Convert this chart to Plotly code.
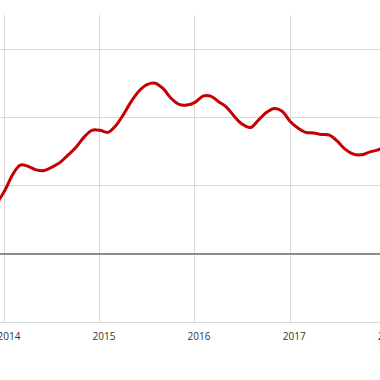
import plotly.graph_objects as go

months = [
    "2013-11-01", "2013-12-01",
    "2014-01-01", "2014-02-01", "2014-03-01", "2014-04-01", "2014-05-01", "2014-06-01",
    "2014-07-01", "2014-08-01", "2014-09-01", "2014-10-01", "2014-11-01", "2014-12-01",
    "2015-01-01", "2015-02-01", "2015-03-01", "2015-04-01", "2015-05-01", "2015-06-01",
    "2015-07-01", "2015-08-01", "2015-09-01", "2015-10-01", "2015-11-01", "2015-12-01",
    "2016-01-01", "2016-02-01", "2016-03-01", "2016-04-01", "2016-05-01", "2016-06-01",
    "2016-07-01", "2016-08-01", "2016-09-01", "2016-10-01", "2016-11-01", "2016-12-01",
    "2017-01-01", "2017-02-01", "2017-03-01", "2017-04-01", "2017-05-01", "2017-06-01",
    "2017-07-01", "2017-08-01", "2017-09-01", "2017-10-01", "2017-11-01", "2017-12-01",
    "2018-01-01",
]
values = [
    0.57, 0.74,
    0.93, 1.17, 1.30, 1.28, 1.23, 1.22,
    1.27, 1.34, 1.45, 1.56, 1.71, 1.81,
    1.81, 1.78, 1.87, 2.04, 2.23, 2.39,
    2.48, 2.50, 2.42, 2.28, 2.19, 2.18,
    2.22, 2.31, 2.31, 2.23, 2.15, 2.01,
    1.90, 1.85, 1.96, 2.07, 2.13, 2.09,
    1.94, 1.84, 1.78, 1.77, 1.75, 1.74,
    1.65, 1.53, 1.46, 1.45, 1.49, 1.52,
    1.56,
]
tick_dates = ["2014-01-01", "2015-01-01", "2016-01-01", "2017-01-01"]
tick_labels = ["2014", "2015", "2016", "2017"]
cut_label = "2018"

fig = go.Figure()
fig.add_trace(go.Scatter(
    x=months, y=values, mode="lines",
    line=dict(color="#c40000", width=3, shape="spline", smoothing=1.0),
    hoverinfo="skip", showlegend=False,
))

font = dict(family="Open Sans, sans-serif", size=10, color="#333333")

fig.update_layout(
    width=380, height=380,
    margin=dict(l=0, r=0, t=15, b=58, autoexpand=False),
    paper_bgcolor="white", plot_bgcolor="white",
    showlegend=False,
    xaxis=dict(
        type="date", automargin=False,
        range=["2013-12-13", "2017-12-12"],
        tickmode="array", tickvals=tick_dates, ticktext=tick_labels,
        showgrid=True, gridcolor="#d9d9d9", gridwidth=1,
        showline=True, linecolor="#d9d9d9", linewidth=1,
        ticks="", tickfont=font, ticklabelshift=4, ticklabelstandoff=5,
        ticklabeloverflow="allow",
        zeroline=False, fixedrange=True,
    ),
    yaxis=dict(
        automargin=False,
        range=[-1, 3.5],
        tickmode="array", tickvals=[-1, 0, 1, 2, 3],
        showgrid=True, gridcolor="#d9d9d9", gridwidth=1,
        zeroline=True, zerolinecolor="#8c8c8c", zerolinewidth=2,
        showticklabels=False, ticks="", fixedrange=True,
    ),
    annotations=[dict(
        text=cut_label, xref="paper", yref="paper",
        x=385 / 380, y=0, xanchor="center", yanchor="top",
        xshift=4, yshift=-5, showarrow=False, font=font,
    )],
)

fig.write_html(
    "out.html",
    config={"displayModeBar": False},
    post_script="document.body.style.margin='0';document.body.style.overflow='hidden';",
)
